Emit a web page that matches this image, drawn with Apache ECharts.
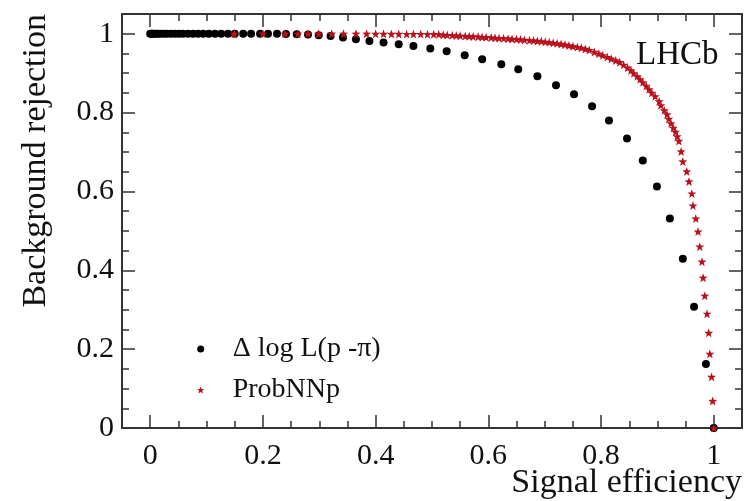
<!DOCTYPE html>
<html>
<head>
<meta charset="utf-8">
<script src="https://cdn.jsdelivr.net/npm/echarts@6/dist/echarts.min.js"></script>
<style>html,body{margin:0;padding:0;background:#fff}#c{width:744px;height:501px}</style>
</head>
<body>
<div id="c"></div>
<script>
// ---- data ----
const seriesNames = ['\u0394 log L(p -\u03c0)', 'ProbNNp'];
const axisTitles = ['Signal efficiency', 'Background rejection'];
const xTicks = [0, 0.2, 0.4, 0.6, 0.8, 1];
const yTicks = [0, 0.2, 0.4, 0.6, 0.8, 1];

const xBlack = [0, 0.002, 0.004, 0.007, 0.011, 0.014, 0.019, 0.025, 0.030, 0.037, 0.044, 0.051, 0.058, 0.067, 0.076, 0.085, 0.094, 0.104, 0.115,
  0.126, 0.138, 0.150, 0.165, 0.179, 0.195, 0.209, 0.225,
  0.241, 0.260, 0.280, 0.299, 0.320, 0.342, 0.365, 0.389, 0.414, 0.441, 0.467, 0.497,
  0.526, 0.558, 0.589, 0.623, 0.653, 0.687, 0.720, 0.752, 0.784, 0.814, 0.846, 0.874, 0.899, 0.922, 0.945, 0.965, 0.986, 1.0];
const yBlack = [1, 1, 1, 1, 1, 1, 1, 1, 1, 1, 1, 1, 1, 1, 1, 1, 1, 1, 1,
  1, 1, 1, 1, 1, 1, 1, 1,
  0.9992, 0.9987, 0.9977, 0.9964, 0.9944, 0.9903, 0.9860, 0.9817, 0.9776, 0.9733, 0.9690, 0.9624,
  0.9555, 0.9454, 0.9352, 0.9225, 0.9098, 0.8920, 0.8691, 0.8463, 0.8158, 0.7802, 0.7344, 0.6785, 0.6125, 0.5311, 0.4295, 0.3075, 0.1626, 0];

const xRed = [0.149, 0.200, 0.239, 0.262, 0.280, 0.299, 0.322, 0.343, 0.365, 0.384, 0.400, 0.414, 0.428, 0.441, 0.455, 0.467, 0.480, 0.492, 0.503, 0.512,
  0.520, 0.527, 0.536, 0.543, 0.550, 0.559, 0.566, 0.573, 0.582, 0.589, 0.596, 0.605, 0.612, 0.619, 0.627, 0.635, 0.642, 0.650, 0.657, 0.664,
  0.673, 0.680, 0.687, 0.694, 0.701, 0.708, 0.715, 0.722, 0.729, 0.736, 0.743, 0.750, 0.758, 0.765, 0.772, 0.779,
  0.788, 0.796, 0.803, 0.811, 0.818, 0.826, 0.833, 0.840, 0.847, 0.853, 0.858, 0.864, 0.869, 0.874, 0.880, 0.885, 0.890, 0.896, 0.903, 0.906,
  0.912, 0.917, 0.920, 0.924, 0.928, 0.932, 0.935, 0.938,
  0.942, 0.945, 0.952, 0.956, 0.961, 0.963, 0.968, 0.972, 0.975, 0.979, 0.981, 0.984, 0.988, 0.991, 0.993, 0.996, 0.998, 1.0];
const yRed = [1, 1, 1, 1, 1, 1, 1, 1, 1, 1, 0.9997, 0.9997, 0.9995, 0.9995, 0.9992, 0.9992, 0.9990, 0.9987, 0.9987, 0.9985,
  0.9972, 0.9967, 0.9959, 0.9954, 0.9949, 0.9941, 0.9936, 0.9931, 0.9924, 0.9916, 0.9911, 0.9903, 0.9896, 0.9888, 0.9883, 0.9875, 0.9868, 0.9860, 0.9853, 0.9843,
  0.9832, 0.9825, 0.9817, 0.9807, 0.9794, 0.9781, 0.9769, 0.9756, 0.9741, 0.9723, 0.9703, 0.9682, 0.9662, 0.9642, 0.9614, 0.9586,
  0.9538, 0.9494, 0.9451, 0.9408, 0.9365, 0.9321, 0.9278, 0.9210, 0.9139, 0.9070, 0.8996, 0.8920, 0.8844, 0.8767, 0.8679, 0.8590, 0.8501, 0.8412, 0.8285, 0.8183,
  0.8056, 0.7954, 0.7840, 0.7726, 0.7611, 0.7510, 0.7395, 0.7281,
  0.7014, 0.6760, 0.6506, 0.6252, 0.5947, 0.5642, 0.5311, 0.4981, 0.4600, 0.4219, 0.3812, 0.3355, 0.2897, 0.2414, 0.1881, 0.1296, 0.0686, 0];

// ---- chart ----
const FONT = 'Liberation Serif';
const AXC = '#333';
const STAR = 'path://M0,-10 L2.35,-3.24 9.51,-3.09 3.8,1.24 5.88,8.09 0,4 -5.88,8.09 -3.8,1.24 -9.51,-3.09 -2.35,-3.24 Z';
const RED = '#b8101c';

function pairs(xs, ys) { return xs.map((x, i) => [x, ys[i]]); }
function tickFmt(list) {
  return function (v) {
    for (const t of list) { if (Math.abs(v - t) < 1e-6) return String(t); }
    return '';
  };
}
const tickCommon = {
  axisLine: { show: true, onZero: false, lineStyle: { color: AXC, width: 2 } },
  axisTick: { show: true, inside: true, length: 13, lineStyle: { color: AXC, width: 1.5 } },
  minorTick: { show: true, splitNumber: 4, length: 7, lineStyle: { color: AXC, width: 1.5 } },
  splitLine: { show: false },
  minorSplitLine: { show: false }
};

const chart = echarts.init(document.getElementById('c'), null, { renderer: 'canvas' });
chart.setOption({
  animation: false,
  backgroundColor: '#fff',
  grid: { left: 122, right: 2, top: 14, bottom: 73, containLabel: false, outerBoundsMode: 'none' },
  title: {
    text: 'LHCb', left: 636, top: 39, padding: 0,
    textStyle: { fontFamily: FONT, fontSize: 33, fontWeight: 'normal', color: '#111' }
  },
  legend: {
    orient: 'vertical', left: 192, top: 329, itemGap: 11,
    itemWidth: 54, itemHeight: 7,
    textStyle: { fontFamily: FONT, fontSize: 28, color: '#111', lineHeight: 30 },
    data: [
      { name: seriesNames[0], icon: 'circle' },
      { name: seriesNames[1], icon: STAR }
    ]
  },
  graphic: [
    {
      type: 'text', x: 742, y: 466, silent: true,
      style: { text: axisTitles[0], fontFamily: FONT, fontSize: 34, fill: '#111', align: 'right', verticalAlign: 'top' }
    },
    {
      type: 'text', x: 53, y: 14, rotation: Math.PI / 2, silent: true,
      style: { text: axisTitles[1], fontFamily: FONT, fontSize: 34, fill: '#111', align: 'right', verticalAlign: 'bottom' }
    }
  ],
  xAxis: [
    Object.assign({}, tickCommon, {
      type: 'value', min: -0.05, max: 1.05, splitNumber: 5, position: 'bottom',
      axisLabel: { show: true, margin: 13, fontFamily: FONT, fontSize: 30, color: '#111', formatter: tickFmt(xTicks), showMinLabel: true, showMaxLabel: true, hideOverlap: false }
    }),
    Object.assign({}, tickCommon, {
      type: 'value', min: -0.05, max: 1.05, splitNumber: 5, position: 'top',
      axisLabel: { show: false }
    })
  ],
  yAxis: [
    Object.assign({}, tickCommon, {
      type: 'value', min: 0, max: 1.05, splitNumber: 5, position: 'left',
      axisLabel: { show: true, margin: 8, fontFamily: FONT, fontSize: 30, color: '#111', formatter: tickFmt(yTicks), showMinLabel: true, showMaxLabel: true, hideOverlap: false }
    }),
    Object.assign({}, tickCommon, {
      type: 'value', min: 0, max: 1.05, splitNumber: 5, position: 'right',
      axisLabel: { show: false }
    })
  ],
  series: [
    {
      name: seriesNames[0], type: 'scatter', xAxisIndex: 0, yAxisIndex: 0,
      symbol: 'circle', symbolSize: 8,
      itemStyle: { color: '#000', opacity: 1 },
      data: pairs(xBlack, yBlack)
    },
    {
      name: seriesNames[1], type: 'scatter', xAxisIndex: 0, yAxisIndex: 0,
      symbol: STAR, symbolSize: 9,
      itemStyle: { color: RED, opacity: 1 },
      data: pairs(xRed, yRed)
    }
  ]
});
</script>
</body>
</html>
